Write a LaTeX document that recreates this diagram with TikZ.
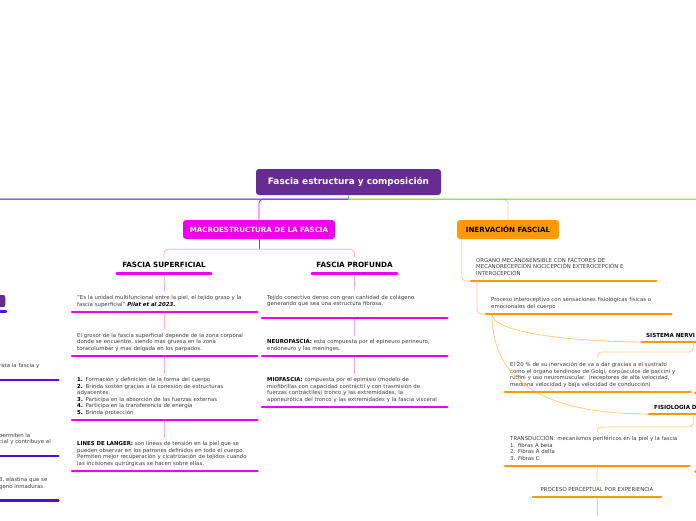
\documentclass[tikz,border=0pt]{standalone}
\usepackage{fontspec}
\setmainfont{DejaVu Sans}
\usetikzlibrary{calc}

\definecolor{rootpurple}{RGB}{102,44,145}
\definecolor{macromag}{RGB}{238,0,238}
\definecolor{macrolight}{RGB}{248,170,248}
\definecolor{inervorange}{RGB}{255,153,0}
\definecolor{inervlight}{RGB}{255,204,128}
\definecolor{leftblue}{RGB}{85,10,230}
\definecolor{rootgreen}{RGB}{102,221,34}
\definecolor{bodygray}{RGB}{60,60,60}
\newcommand{\kw}[1]{\textcolor{black}{\textbf{#1}}}

\begin{document}
\begin{tikzpicture}[
  x=1pt, y=-1pt,
  box/.style={rounded corners=3pt, inner sep=0pt, font=\bfseries\fontsize{7.1}{8}\selectfont},
  head/.style={anchor=south, inner ysep=5.5pt, inner xsep=0pt, text depth=0pt,
    font=\bfseries\fontsize{7.2}{8}\selectfont},
  subhead/.style={head, anchor=south west, align=left, inner ysep=4.6pt,
    font=\bfseries\fontsize{5.6}{7}\selectfont},
  item/.style={anchor=south west, align=left, text width=175pt, inner xsep=5pt,
    inner ysep=3.65pt, text=bodygray, font=\fontsize{5.4}{6.5}\selectfont,
    execute at end node=\strut},
  uline/.style={line width=2.6pt, line cap=round},
  link/.style={line width=0.8pt, rounded corners=4pt},
]
  \fill[white] (0,0) rectangle (696,520);
  \useasboundingbox (0,0) rectangle (696,520);

  \coordinate (lend) at (-10,199);
  \coordinate (rend) at (710,199);
  \coordinate (pend) at (597,516);

  % 中心主题和两个分支
  \node[box, fill=rootpurple, text=white, minimum width=185pt, minimum height=26pt,
    font=\bfseries\fontsize{8.9}{10}\selectfont] (root) at (348.5,182) {Fascia estructura y composición};
  \node[box, fill=macromag, text=white, minimum width=152pt, minimum height=19pt] (macro) at (259,229.5) {MACROESTRUCTURA DE LA FASCIA};
  \node[box, fill=inervorange, text=black, minimum width=102pt, minimum height=19pt] (inerv) at (508,229.5) {INERVACIÓN FASCIAL};

  % 粉色分支
  \node[head, minimum width=94pt] (sup) at (164,273.5) {FASCIA SUPERFICIAL};
  \node[head, minimum width=85pt] (prof) at (354.5,273.5) {FASCIA PROFUNDA};

  \node[item] (s1) at (72,312) {"Es la unidad multifuncional entre la piel, el tejido graso y la\\
    fascia superficial" \kw{\textit{Pilat et al 2023.}}};
  \node[item] (s2) at (72,356) {El grosor de la fascia superficial depende de la zona corporal\\
    donde se encuentre, siendo mas gruesa en la zona\\
    toracolumbar y mas delgada en los parpados.};
  \node[item] (s3) at (72,420) {\kw{1.} Formación y definición de la forma del cuerpo\\
    \kw{2.} Brinda sostén gracias a la conexión de estructuras\\
    adyacentes.\\
    \kw{3.} Participa en la absorción de las fuerzas externas\\
    \kw{4.} Participa en la transferencia de energía\\
    \kw{5.} Brinda protección};
  \node[item] (s4) at (72,471) {\kw{LINES DE LANGER:} son líneas de tensión en la piel que se\\
    pueden observar en los patrones definidos en todo el cuerpo.\\
    Permiten mejor recuperación y cicatrización de tejidos cuando\\
    las incisiones quirúrgicas se hacen sobre ellas.};

  \node[item] (p1) at (262,318) {Tejido conectivo denso con gran cantidad de colágeno\\
    generando que sea una estructura fibrosa.\\ \mbox{}};
  \node[item] (p2) at (262,356) {\kw{NEUROFASCIA:} esta compuesta por el epineuro perineuro,\\
    endoneuro y las meninges.};
  \node[item] (p3) at (262,407) {\kw{MIOFASCIA:} compuesta por el epimisio (modelo de\\
    miofibrillas con capacidad contráctil y con trasmisión de\\
    fuerzas contráctiles) tronco y las extremidades, la\\
    aponeurótica del tronco y las extremidades y la fascia visceral};

  % 橙色分支
  \node[item] (o1) at (471,281) {ORGANO MECANOSENSIBLE CON FACTORES DE\\
    MECANORECEPCIÓN NOCICEPCIÓN EXTEROCEPCIÓN E\\
    INTEROCEPCIÓN};
  \node[item] (o2) at (486,314) {Proceso interoceptivo con sensaciones fisiológicas físicas o\\
    emocionales del cuerpo};
  \node[subhead, text width=94pt, inner xsep=4pt] (sis) at (642,342) {SISTEMA NERVI};
  \node[item] (o3) at (505,392) {El 20 \% de su inervación de va a dar gracias a el sustrato\\
    como el órgano tendinoso de Golgi, corpúsculos de paccini y\\
    ruffini y uso neuromuscular. (receptores de alta velocidad,\\
    mediana velocidad y baja velocidad de conducción)};
  \node[subhead, text width=78pt, inner xsep=5pt] (fis) at (649,414) {FISIOLOGIA D};
  \node[item, text width=174pt] (o4) at (505,466) {TRANSDUCCIÓN: mecanismos periféricos en la piel y la fascia\\
    1. fibras A beta\\
    2. Fibras A delta\\
    3. Fibras C};
  \node[head, minimum width=128pt, inner ysep=5pt, text=bodygray,
    font=\fontsize{5.4}{6.5}\selectfont] (perc) at (597,497) {PROCESO PERCEPTUAL POR EXPERIENCIA};

  % 左侧蓝色分支 (被裁掉)
  \node[fill=rootpurple, rounded corners=2pt, minimum width=40pt, minimum height=12pt,
    inner sep=0pt, anchor=east] (lhead) at (5.5,301) {};
  \node[item, text width=59pt, inner xsep=0pt] (l1) at (-1,380) {rata la fascia y\\ \mbox{}};
  \node[item, text width=59pt, inner xsep=0pt] (l2) at (-1,456) {permiten la\\ cial y contribuye al\\ \mbox{}};
  \node[item, text width=59pt, inner xsep=0pt] (l3) at (-1,500.5) {3, elastina que se\\ geno inmaduras\\ \mbox{}};

  % 连线
  \draw[inervlight, link] ([yshift=-4pt]root.south) -| (inerv.north);
  \draw[leftblue, line width=1pt] ([yshift=-4pt]root.south) -- (lend);
  \draw[macromag, link] ([yshift=-4pt]root.south) -| (macro.north);
  \draw[rootgreen, line width=1pt] (root.south) -- ++(0,4) -- (rend);

  \draw[macromag, line width=0.8pt] (macro.south) -- ++(0,10);
  \draw[macrolight, link] ([yshift=-10pt]macro.south) -| (sup.north);
  \draw[macrolight, link] ([yshift=-10pt]macro.south) -| (prof.north);
  \draw[macrolight, line width=0.8pt] (sup.south) -- (s1.north);
  \draw[macrolight, line width=0.8pt] (s1.south) -- (s2.north);
  \draw[macrolight, line width=0.8pt] (s2.south) -- (s3.north);
  \draw[macrolight, line width=0.8pt] (s3.south) -- (s4.north);
  \draw[macrolight, line width=0.8pt] (prof.south) -- (p1.north);
  \draw[macrolight, line width=0.8pt] (p1.south) -- (p2.north);
  \draw[macrolight, line width=0.8pt] (p2.south) -- (p3.north);

  \draw[inervlight, link] ([xshift=5pt]inerv.south west) |- (o1.south west);
  \draw[inervlight, link] ([xshift=6pt]o1.south west) |- (o2.south west);
  \draw[inervlight, line width=0.8pt] ([xshift=6pt]o2.south west) .. controls +(0,16) and +(-90,-1) .. (sis.south west);
  \draw[inervlight, line width=0.8pt] ([xshift=6pt]o2.south west) .. controls +(0,70) and +(-100,0) .. (fis.south west);
  \draw[inervlight, link] (sis.south) -- ++(0,10) -| (o3.north);
  \draw[inervlight, link] (fis.south) -- ++(0,13) -| (o4.north);
  \draw[inervlight, line width=0.8pt] (o4.south) -- (perc.north);
  \draw[inervlight, line width=0.8pt] (perc.south) -- (pend);

  % 下划线
  \foreach \n in {sup,prof,s1,s2,s3,s4,p1,p2,p3}
    \draw[uline, macromag] (\n.south west) -- (\n.south east);
  \foreach \n in {o1,o2,sis,o3,fis,o4,perc}
    \draw[uline, inervorange] (\n.south west) -- (\n.south east);
  \foreach \n in {l1,l2,l3}
    \draw[uline, leftblue] ([xshift=-20pt]\n.south west) -- (\n.south east);
  \draw[uline, leftblue] ($(lhead.south west)+(-10,4)$) -- ($(lhead.south east)+(0.5,4)$);
  \fill[inervorange] (695.5,393) circle (1.3pt);
  \fill[inervorange] (695.5,471.5) circle (1.3pt);
\end{tikzpicture}
\end{document}
